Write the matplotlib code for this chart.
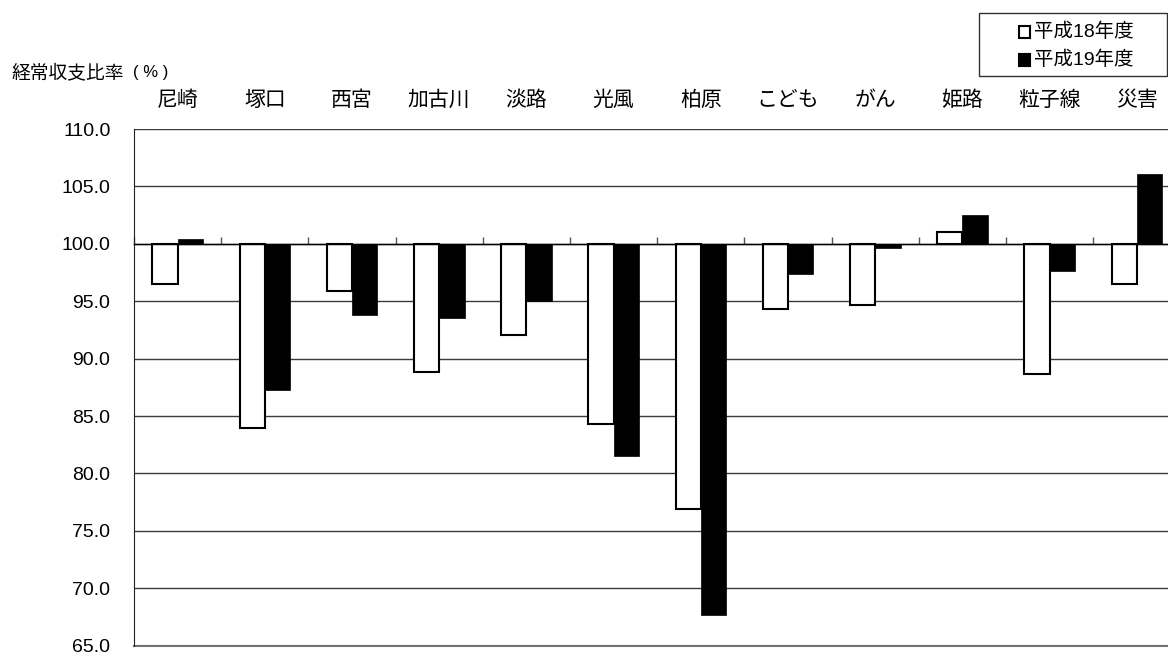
import numpy as np
import matplotlib
matplotlib.use('Agg')
import matplotlib.pyplot as plt
from matplotlib.transforms import blended_transform_factory

plt.rcParams['font.family'] = ['Liberation Sans', 'Noto Sans CJK JP', 'DejaVu Sans']
CJK = ['Noto Sans CJK JP', 'DejaVu Sans']

hospitals = ['尼崎', '塚口', '西宮', '加古川', '淡路', '光風', '柏原', 'こども', 'がん', '姫路', '粒子線', '災害']
ratio_h18 = [96.5, 84.0, 95.9, 88.8, 92.1, 84.3, 76.9, 94.3, 94.7, 101.0, 88.7, 96.5]
ratio_h19 = [100.4, 87.3, 93.8, 93.5, 95.0, 81.5, 67.7, 97.4, 99.6, 102.5, 97.6, 106.1]
yticks = [65.0, 70.0, 75.0, 80.0, 85.0, 90.0, 95.0, 100.0, 105.0, 110.0]
legend_labels = ['平成18年度', '平成19年度']
legend_fill = ['white', 'black']

W, H = 1168, 654
fig = plt.figure(figsize=(W / 100, H / 100), dpi=100)
# plot area runs a little past the right edge of the figure
left, right, top, bottom = 134, 1180.5, 129, 645.7
ax = fig.add_axes([left / W, (H - bottom) / H, (right - left) / W, (bottom - top) / H])

x = np.arange(len(hospitals))
bw = 0.29
base = 100.0
ax.bar(x - bw / 2, np.array(ratio_h18) - base, bottom=base, width=bw,
       color='white', edgecolor='black', linewidth=1.5, zorder=3)
ax.bar(x + bw / 2, np.array(ratio_h19) - base, bottom=base, width=bw,
       color='black', edgecolor='black', linewidth=0.5, zorder=3)

ax.set_xlim(-0.5, len(hospitals) - 0.5)
ax.set_ylim(65, 110)
ax.set_yticks(yticks)
ax.set_yticklabels([f'{v:.1f}' for v in yticks], fontsize=14)
ax.tick_params(axis='y', length=0, pad=17)
ax.yaxis.grid(True, color='#3a3a3a', linewidth=1.0, zorder=0)

# category axis crosses at 100 with ticks between groups
ax.spines['bottom'].set_position(('data', base))
ax.spines['bottom'].set_color('black')
ax.spines['bottom'].set_linewidth(1.0)
ax.spines['bottom'].set_zorder(4)
ax.set_xticks(np.arange(-0.5, len(hospitals)))
ax.set_xticklabels([])
ax.tick_params(axis='x', direction='in', length=5, width=1, color='#555555')
ax.spines['left'].set_color('#222222')
ax.spines['top'].set_visible(False)
ax.spines['right'].set_visible(False)
ax.axhline(65, color='#777777', linewidth=1.5, zorder=1, clip_on=False)

trans = blended_transform_factory(ax.transData, fig.transFigure)
for i, name in enumerate(hospitals):
    ax.text(i, 1 - 100 / H, name, transform=trans, ha='center', va='center',
            fontsize=15, family=CJK)

fig.text(12 / W, 1 - 73 / H, '経常収支比率', ha='left', va='center', fontsize=13.5, family=CJK)
fig.text(133 / W, 1 - 73 / H, '( % )', ha='left', va='center', fontsize=12)

# legend box with small square swatches
fig.patches.append(plt.Rectangle((979 / W, 1 - 76 / H), (W - 980) / W, 63 / H,
                                 transform=fig.transFigure, fill=False,
                                 edgecolor='#333333', linewidth=1.0))
for k, (fill, lab) in enumerate(zip(legend_fill, legend_labels)):
    yc = 32 + 28 * k
    fig.patches.append(plt.Rectangle((1019 / W, 1 - (yc + 6) / H), 11 / W, 12 / H,
                                     transform=fig.transFigure, facecolor=fill,
                                     edgecolor='black', linewidth=1.5))
    fig.text(1034 / W, 1 - yc / H, lab, ha='left', va='center', fontsize=14)

fig.savefig('out.png', dpi=100)
